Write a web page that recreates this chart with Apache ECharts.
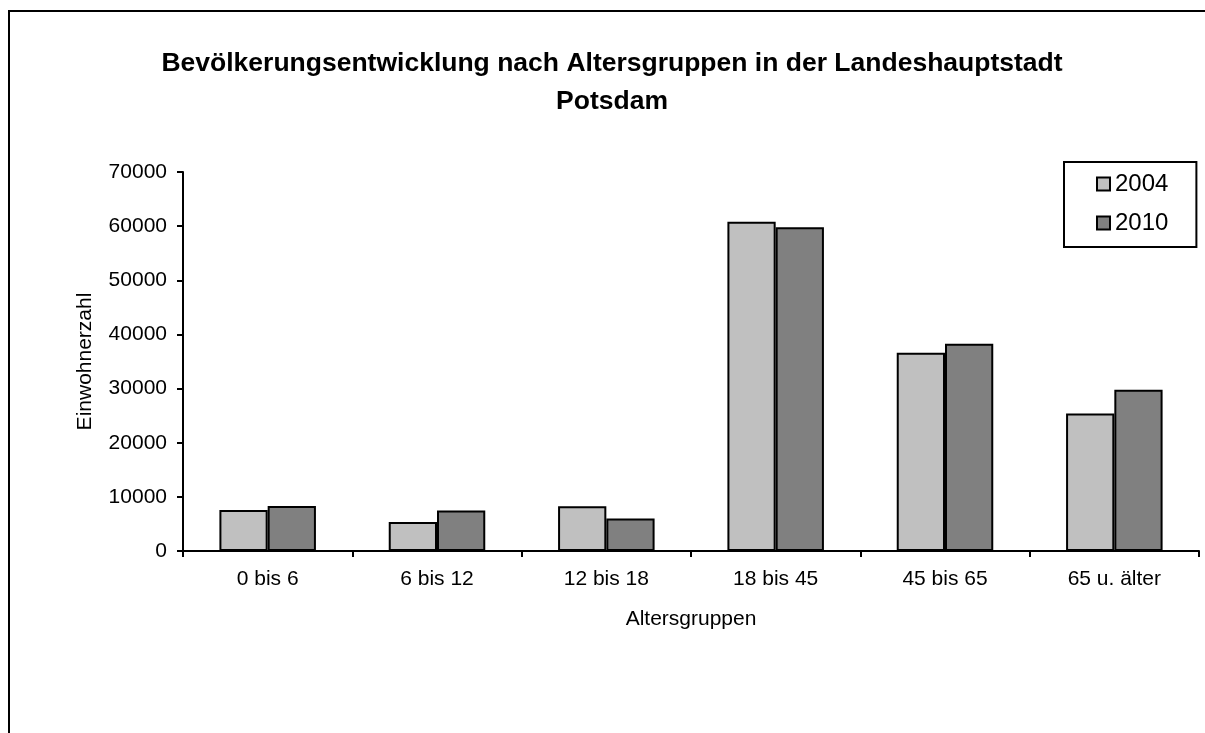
<!DOCTYPE html>
<html>
<head>
<meta charset="utf-8">
<script src="https://cdn.jsdelivr.net/npm/echarts@6/dist/echarts.min.js"></script>
<style>
  html, body { margin: 0; padding: 0; background: #fff; }
  #main { width: 1205px; height: 733px; }
</style>
</head>
<body>
<div id="main"></div>
<script>
  var categories = ['0 bis 6', '6 bis 12', '12 bis 18', '18 bis 45', '45 bis 65', '65 u. älter']
  var values2004 = [7550, 5350, 8250, 60800, 36600, 25400]
  var values2010 = [8300, 7500, 6000, 59800, 38300, 29800]
  var yTicks = [0, 10000, 20000, 30000, 40000, 50000, 60000, 70000]

  var font = 'Liberation Sans, Arial, sans-serif'
  var myChart = echarts.init(document.getElementById('main'))

  var option = {
    animation: false,
    backgroundColor: '#fff',
    textStyle: { fontFamily: font },
    title: {
      text: 'Bevölkerungsentwicklung nach Altersgruppen in der Landeshauptstadt\nPotsdam',
      left: 607,
      top: 40,
      textAlign: 'center',
      textStyle: { fontSize: 26.5, fontWeight: 'bold', color: '#000', lineHeight: 38, fontFamily: font },
    },
    graphic: [
      {
        type: 'rect',
        shape: { x: 9, y: 11, width: 1220, height: 760 },
        style: { fill: 'none', stroke: '#000', lineWidth: 2 },
        silent: true,
      },
    ],
    legend: {
      data: ['2004', '2010'],
      orient: 'vertical',
      left: 1064,
      top: 162,
      padding: [10, 28, 12, 32],
      icon: 'rect',
      itemWidth: 13,
      itemHeight: 13,
      itemGap: 15,
      borderColor: '#000',
      borderWidth: 2,
      borderRadius: 0,
      backgroundColor: '#fff',
      textStyle: { fontSize: 24, color: '#000', fontFamily: font },
    },
    grid: {
      left: 183,
      right: 6,
      top: 172,
      bottom: 182,
      containLabel: false,
    },
    xAxis: {
      type: 'category',
      data: categories,
      name: 'Altersgruppen',
      nameLocation: 'middle',
      nameGap: 58,
      nameTextStyle: { fontSize: 21, color: '#000', fontFamily: font },
      axisLine: { lineStyle: { color: '#000', width: 2 } },
      axisTick: { show: true, alignWithLabel: false, length: 6, lineStyle: { color: '#000', width: 2 } },
      axisLabel: { fontSize: 21, color: '#000', margin: 18, fontFamily: font },
    },
    yAxis: {
      type: 'value',
      min: yTicks[0],
      max: yTicks[yTicks.length - 1],
      interval: 10000,
      name: 'Einwohnerzahl',
      nameLocation: 'middle',
      nameRotate: 90,
      nameGap: 87,
      nameTextStyle: { fontSize: 21, color: '#000', fontFamily: font },
      axisLine: { show: true, lineStyle: { color: '#000', width: 2 } },
      axisTick: { show: true, length: 6, lineStyle: { color: '#000', width: 2 } },
      axisLabel: {
        fontSize: 21,
        color: '#000',
        margin: 16,
        fontFamily: font,
        formatter: function (v) {
          return String(v)
        },
      },
      splitLine: { show: false },
    },
    series: [
      {
        name: '2004',
        type: 'bar',
        data: values2004,
        barGap: '0%',
        barCategoryGap: '43%',
        itemStyle: { color: '#c0c0c0', borderColor: '#000', borderWidth: 2 },
      },
      {
        name: '2010',
        type: 'bar',
        data: values2010,
        barGap: '0%',
        barCategoryGap: '43%',
        itemStyle: { color: '#808080', borderColor: '#000', borderWidth: 2 },
      },
    ],
  }

  myChart.setOption(option)
</script>
</body>
</html>
